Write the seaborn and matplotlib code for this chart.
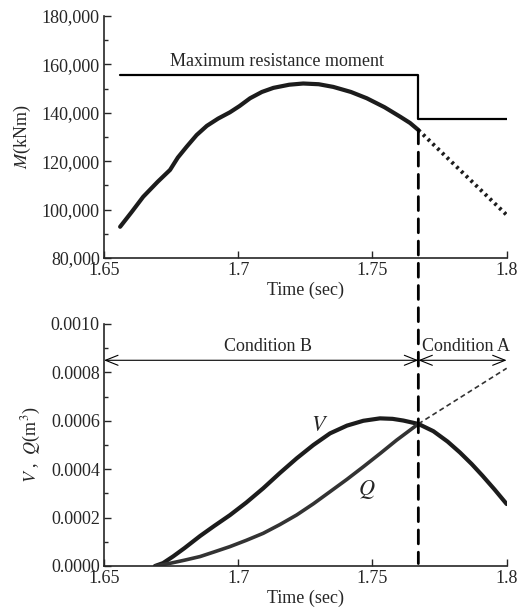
import numpy as np
import pandas as pd
import seaborn as sns
import matplotlib
matplotlib.use("Agg")
import matplotlib.pyplot as plt
from matplotlib.ticker import MultipleLocator, StrMethodFormatter
from matplotlib.patches import ConnectionPatch

# ---- data -------------------------------------------------------------
# bending moment M (kNm) up to the switch time
m_time = [1.656, 1.6603, 1.6646, 1.6700, 1.6746, 1.6775, 1.6808, 1.6845,
          1.6883, 1.6925, 1.6969, 1.7005, 1.7044, 1.7088, 1.7131, 1.7190,
          1.7242, 1.7300, 1.7354, 1.7420, 1.7479, 1.7545, 1.7603, 1.7640,
          1.7671]
m_value = [92900, 99000, 105300, 111500, 116400, 121500, 126000, 130800,
           134600, 137600, 140200, 142800, 146000, 148600, 150300, 151600,
           152100, 151800, 150700, 148600, 146000, 142300, 138400, 135800,
           132900]
# moment continuation after the switch (dotted)
m_ext_time = [1.7671, 1.8]
m_ext_value = [132900, 97800]

# maximum resistance moment (step)
res_time = [1.656, 1.7671, 1.7671, 1.8]
res_value = [155600, 155600, 137400, 137400]

# volumes V and Q (m^3)
v_time = [1.669, 1.6720, 1.6758, 1.6800, 1.6858, 1.6910, 1.6969, 1.7030,
          1.7093, 1.7155, 1.7218, 1.7280, 1.7342, 1.7405, 1.7466, 1.7528,
          1.7575, 1.7615, 1.7671, 1.7727, 1.7780, 1.7826, 1.7870, 1.7910,
          1.7955, 1.8]
v_value = [0.0, 0.000012, 0.000040, 0.000074, 0.000124, 0.000165, 0.000210,
           0.000262, 0.000321, 0.000384, 0.000445, 0.000500, 0.000548,
           0.000580, 0.000600, 0.000610, 0.000608, 0.000601, 0.000587,
           0.000557, 0.000514, 0.000469, 0.000421, 0.000373, 0.000316,
           0.000256]
q_time = [1.669, 1.6750, 1.6800, 1.6858, 1.6910, 1.6969, 1.7030, 1.7093,
          1.7155, 1.7218, 1.7280, 1.7342, 1.7405, 1.7466, 1.7530, 1.7590,
          1.7671]
q_value = [0.0, 0.000012, 0.000024, 0.000039, 0.000058, 0.000080, 0.000106,
           0.000135, 0.000171, 0.000211, 0.000257, 0.000307, 0.000358,
           0.000410, 0.000466, 0.000520, 0.000587]
q_ext_time = [1.7671, 1.8]
q_ext_value = [0.000587, 0.000817]

t_switch = 1.7671
x_ticks = [1.65, 1.7, 1.75, 1.8]
x_tick_labels = ["1.65", "1.7", "1.75", "1.8"]

# ---- style ------------------------------------------------------------
sns.set_style("ticks")
plt.rcParams["font.family"] = ["Liberation Serif", "DejaVu Serif"]
plt.rcParams["mathtext.fontset"] = "stix"
plt.rcParams["font.size"] = 13
plt.rcParams["axes.linewidth"] = 1.2
plt.rcParams["xtick.direction"] = "in"
plt.rcParams["ytick.direction"] = "in"
plt.rcParams["lines.solid_joinstyle"] = "round"
plt.rcParams["lines.solid_capstyle"] = "round"

fig = plt.figure(figsize=(5.18, 6.15), dpi=100)
ax1 = fig.add_axes([0.2008, 0.5805, 0.7773, 0.3935])
ax2 = fig.add_axes([0.2008, 0.0797, 0.7773, 0.3935])

dark = "#1c1c1c"

# ---- moment panel -------------------------------------------------------
sns.lineplot(x=m_time, y=m_value, ax=ax1, color=dark, lw=3.0,
             sort=False, estimator=None)
sns.lineplot(x=m_ext_time, y=m_ext_value, ax=ax1, color=dark, lw=2.8,
             linestyle=(0, (0.7, 1.0)), sort=False, estimator=None)
sns.lineplot(x=res_time, y=res_value, ax=ax1, color="black", lw=1.6,
             sort=False, estimator=None)
ax1.text(1.7145, 157600, "Maximum resistance moment", ha="center",
         va="bottom", fontsize=13)

ax1.set_xlim(1.65, 1.8)
ax1.set_ylim(80000, 180000)
ax1.yaxis.set_major_locator(MultipleLocator(20000))
ax1.yaxis.set_minor_locator(MultipleLocator(10000))
ax1.yaxis.set_major_formatter(StrMethodFormatter("{x:,.0f}"))
ax1.set_xticks(x_ticks, x_tick_labels)
ax1.set_xlabel("Time (sec)", fontsize=13, labelpad=2)
ax1.set_ylabel(r"$M$(kNm)", fontsize=13, labelpad=6)

# ---- volume panel -------------------------------------------------------
sns.lineplot(x=v_time, y=v_value, ax=ax2, color=dark, lw=3.0,
             sort=False, estimator=None)
sns.lineplot(x=q_time, y=q_value, ax=ax2, color="#333333", lw=2.6,
             sort=False, estimator=None)
sns.lineplot(x=q_ext_time, y=q_ext_value, ax=ax2, color="#333333", lw=1.2,
             linestyle=(0, (3, 2)), sort=False, estimator=None)

ax2.text(1.7305, 0.000576, r"$V$", fontsize=16, ha="center", va="center")
ax2.text(1.7479, 0.000314, r"$Q$", fontsize=16, ha="center", va="center")

arrow_y = 0.00085
arrow_kw = dict(arrowstyle="<->,head_length=0.45,head_width=0.18",
                lw=0.8, color="black", shrinkA=0, shrinkB=0,
                mutation_scale=20)
ax2.annotate("", xy=(1.65, arrow_y), xytext=(t_switch, arrow_y),
             arrowprops=arrow_kw, annotation_clip=False)
ax2.annotate("", xy=(t_switch, arrow_y), xytext=(1.8, arrow_y),
             arrowprops=arrow_kw, annotation_clip=False)
ax2.text(1.711, arrow_y + 0.00002, "Condition B", ha="center",
         va="bottom", fontsize=13)
ax2.text(t_switch + 0.0012, arrow_y + 0.00002, "Condition A", ha="left",
         va="bottom", fontsize=13, clip_on=False)

ax2.set_xlim(1.65, 1.8)
ax2.set_ylim(0, 0.001)
ax2.yaxis.set_major_locator(MultipleLocator(0.0002))
ax2.yaxis.set_minor_locator(MultipleLocator(0.0001))
ax2.yaxis.set_major_formatter(StrMethodFormatter("{x:.4f}"))
ax2.set_xticks(x_ticks, x_tick_labels)
ax2.set_xlabel("Time (sec)", fontsize=13, labelpad=2)
ax2.set_ylabel(r"$V$ ,  $Q$(m$^3$)", fontsize=13, labelpad=6)

for ax in (ax1, ax2):
    sns.despine(ax=ax)
    ax.tick_params(which="major", length=5, width=1.0, pad=3)
    ax.tick_params(which="minor", length=3, width=1.0)
    ax.tick_params(axis="x", which="minor", length=0)

# switch time marker running through both panels
con = ConnectionPatch(xyA=(t_switch, 132900), coordsA=ax1.transData,
                      xyB=(t_switch, 0.00001), coordsB=ax2.transData,
                      color="black", lw=2.0, linestyle=(0, (5, 3)))
fig.add_artist(con)

fig.savefig("out.png", dpi=100)
